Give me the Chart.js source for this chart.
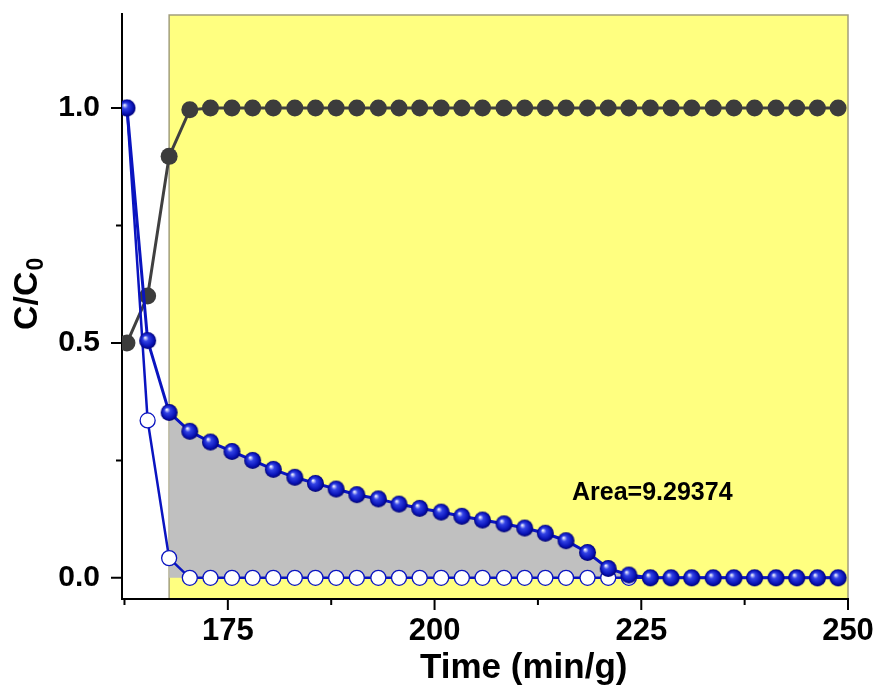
<!DOCTYPE html>
<html lang="en">
<head>
<meta charset="UTF-8">
<title>C/C0 vs Time</title>
<script src="https://cdn.jsdelivr.net/npm/chart.js"></script>
<style>
  html, body { margin: 0; padding: 0; background: #fff; }
</style>
</head>
<body>
<canvas id="curveChart" width="879" height="695"></canvas>

<script>
// Data
const timeValues = [162.8, 165.3, 167.9, 170.4, 172.9, 175.5, 178.0, 180.5, 183.1, 185.6,
                    188.1, 190.6, 193.2, 195.7, 198.2, 200.8, 203.3, 205.8, 208.4, 210.9,
                    213.4, 215.9, 218.5, 221.0, 223.5, 226.1, 228.6, 231.1, 233.7, 236.2,
                    238.7, 241.3, 243.8, 246.3, 248.8];
const greyValues = [0.50, 0.60, 0.897, 0.996, 1, 1, 1, 1, 1, 1,
                    1, 1, 1, 1, 1, 1, 1, 1, 1, 1,
                    1, 1, 1, 1, 1, 1, 1, 1, 1, 1,
                    1, 1, 1, 1, 1];
const blueValues = [1.0, 0.505, 0.352, 0.312, 0.289, 0.269, 0.250, 0.231, 0.214, 0.201,
                    0.189, 0.177, 0.168, 0.157, 0.148, 0.140, 0.131, 0.123, 0.115, 0.106,
                    0.095, 0.079, 0.054, 0.020, 0.006, 0, 0, 0, 0, 0,
                    0, 0, 0, 0, 0];
const openValues = [1.0, 0.335, 0.042, 0, 0, 0, 0, 0, 0, 0,
                    0, 0, 0, 0, 0, 0, 0, 0, 0, 0,
                    0, 0, 0, 0, 0, 0, 0, 0, 0, 0,
                    0, 0, 0, 0, 0];
const xTickValues = [175, 200, 225, 250];
const xMinorTicks = [162.5, 187.5, 212.5, 237.5];
const yTickValues = [0, 0.5, 1.0];
const yMinorTicks = [0.25, 0.75];
const shadeFrom = 2;          // index of first point inside the yellow window
const areaText = 'Area=9.29374';

const FONT = '"Liberation Sans", Arial, sans-serif';

function pts(values, from) {
    const out = [];
    for (let i = from || 0; i < values.length; i++) out.push({ x: timeValues[i], y: values[i] });
    return out;
}

// shaded blue ball marker
function makeSphere(r) {
    const c = document.createElement('canvas');
    c.width = c.height = r * 2 + 2;
    const g = c.getContext('2d');
    const cx = r + 1, cy = r + 1;
    const grad = g.createRadialGradient(cx - r * 0.3, cy - r * 0.35, r * 0.05, cx, cy, r);
    grad.addColorStop(0, '#f0f2ff');
    grad.addColorStop(0.3, '#3343e6');
    grad.addColorStop(0.75, '#0a14b8');
    grad.addColorStop(1, '#000070');
    g.fillStyle = grad;
    g.beginPath();
    g.arc(cx, cy, r, 0, Math.PI * 2);
    g.fill();
    return c;
}
const sphere = makeSphere(8.5);

// no extra room for edge labels, the layout padding sets the plot box
function fixBox(size, key) {
    return s => {
        s[key] = size;
        s.paddingTop = s.paddingBottom = s.paddingLeft = s.paddingRight = 0;
    };
}

const decor = {
    id: 'decor',
    beforeDatasetsDraw(chart) {
        const { ctx, chartArea, scales: { x } } = chart;
        const left = x.getPixelForValue(timeValues[shadeFrom]);
        const right = x.getPixelForValue(x.max);
        ctx.save();
        ctx.fillStyle = '#ffff80';
        ctx.fillRect(left, chartArea.top + 1, right - left, chartArea.bottom - chartArea.top - 2);
        ctx.strokeStyle = '#a39f7c';
        ctx.lineWidth = 1.5;
        ctx.beginPath();
        ctx.moveTo(left, chartArea.bottom - 1);
        ctx.lineTo(left, chartArea.top + 1);
        ctx.lineTo(right, chartArea.top + 1);
        ctx.lineTo(right, chartArea.bottom - 1);
        ctx.stroke();
        ctx.restore();
    },
    afterDraw(chart) {
        const { ctx, chartArea, scales: { x, y } } = chart;
        ctx.save();
        ctx.strokeStyle = '#000';
        ctx.lineWidth = 2;
        ctx.beginPath();
        xTickValues.forEach(v => { const p = x.getPixelForValue(v); ctx.moveTo(p, chartArea.bottom); ctx.lineTo(p, chartArea.bottom + 11); });
        xMinorTicks.forEach(v => { const p = x.getPixelForValue(v); ctx.moveTo(p, chartArea.bottom); ctx.lineTo(p, chartArea.bottom + 6); });
        yTickValues.forEach(v => { const p = y.getPixelForValue(v); ctx.moveTo(chartArea.left, p); ctx.lineTo(chartArea.left - 11, p); });
        yMinorTicks.forEach(v => { const p = y.getPixelForValue(v); ctx.moveTo(chartArea.left, p); ctx.lineTo(chartArea.left - 6, p); });
        ctx.stroke();

        ctx.fillStyle = '#000';
        // area annotation
        ctx.font = 'bold 25px ' + FONT;
        ctx.textAlign = 'left';
        ctx.textBaseline = 'alphabetic';
        ctx.fillText(areaText, 572, 500);

        // x title
        ctx.font = 'bold 35px ' + FONT;
        ctx.fillText('Time (min/g)', 420, 678);

        // y title with subscript
        ctx.translate(37, 330);
        ctx.rotate(-Math.PI / 2);
        ctx.font = 'bold 34px ' + FONT;
        ctx.fillText('C/C', 0, 0);
        const w = ctx.measureText('C/C').width;
        ctx.font = 'bold 23px ' + FONT;
        ctx.fillText('0', w + 1, 6);
        ctx.restore();
    }
};

const ctx = document.getElementById('curveChart').getContext('2d');
const curveChart = new Chart(ctx, {
    type: 'line',
    data: {
        datasets: [
            {
                label: 'shaded',
                data: pts(blueValues, shadeFrom),
                borderWidth: 0,
                pointRadius: 0,
                backgroundColor: '#c0c0c0',
                fill: 'origin',
                order: 5
            },
            {
                label: 'feed',
                data: pts(greyValues),
                borderColor: '#404040',
                borderWidth: 3,
                pointRadius: 8.5,
                pointBackgroundColor: '#3c3c3c',
                pointBorderWidth: 0,
                fill: false,
                order: 4
            },
            {
                label: 'open',
                data: pts(openValues),
                borderColor: '#0a14c0',
                borderWidth: 2.5,
                pointRadius: 7.5,
                pointBackgroundColor: '#ffffff',
                pointBorderColor: '#0a14c0',
                pointBorderWidth: 1.3,
                fill: false,
                order: 3
            },
            {
                label: 'outlet',
                data: pts(blueValues),
                borderColor: '#0a14c0',
                borderWidth: 3,
                pointStyle: sphere,
                pointRadius: 9,
                fill: false,
                order: 2
            }
        ]
    },
    options: {
        responsive: false,
        animation: false,
        devicePixelRatio: 1,
        layout: { padding: { top: 14, right: 31, left: 0, bottom: 0 } },
        plugins: {
            legend: { display: false },
            tooltip: { enabled: false }
        },
        scales: {
            x: {
                type: 'linear',
                min: 162.2,
                max: 250,
                afterFit: fixBox(96, 'height'),
                afterBuildTicks: s => { s.ticks = xTickValues.map(v => ({ value: v })); },
                grid: { display: false, drawTicks: false },
                border: { display: true, color: '#000', width: 2 },
                ticks: {
                    color: '#000',
                    font: { family: FONT, size: 31, weight: 'bold' },
                    padding: 14,
                    maxRotation: 0,
                    autoSkip: false
                }
            },
            y: {
                type: 'linear',
                min: -0.045,
                max: 1.2,
                afterFit: fixBox(122, 'width'),
                afterBuildTicks: s => { s.ticks = yTickValues.map(v => ({ value: v })); },
                grid: { display: false, drawTicks: false },
                border: { display: true, color: '#000', width: 2 },
                ticks: {
                    color: '#000',
                    font: { family: FONT, size: 30, weight: 'bold' },
                    padding: 22,
                    callback: v => Number(v).toFixed(1)
                }
            }
        }
    },
    plugins: [decor]
});
</script>
</body>
</html>
